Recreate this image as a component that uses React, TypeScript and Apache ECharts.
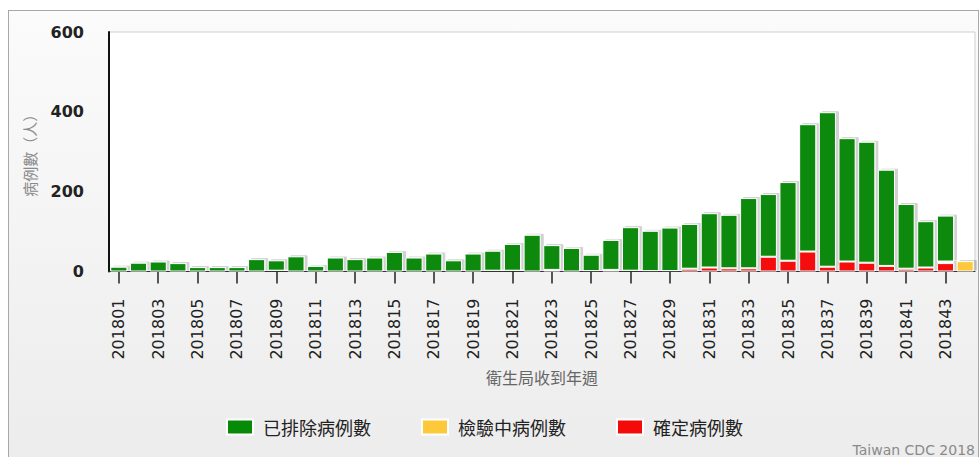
import React, { useEffect, useRef } from 'react';
import * as echarts from 'echarts';

const weeks = [
  '201801', '201802', '201803', '201804', '201805', '201806', '201807', '201808', '201809', '201810',
  '201811', '201812', '201813', '201814', '201815', '201816', '201817', '201818', '201819', '201820',
  '201821', '201822', '201823', '201824', '201825', '201826', '201827', '201828', '201829', '201830',
  '201831', '201832', '201833', '201834', '201835', '201836', '201837', '201838', '201839', '201840',
  '201841', '201842', '201843', '201844',
];

const excluded = [
  12, 22, 25, 21, 11, 11, 11, 31, 26, 38,
  14, 35, 31, 35, 49, 35, 45, 28, 45, 50,
  67, 92, 62, 59, 41, 75, 109, 101, 109, 112,
  136, 134, 176, 157, 197, 319, 387, 309, 303, 241,
  162, 116, 115, 0,
];

const pending = [
  0, 0, 0, 0, 0, 0, 0, 0, 0, 0,
  0, 0, 0, 0, 0, 0, 0, 0, 0, 0,
  0, 0, 0, 0, 0, 0, 0, 0, 0, 0,
  0, 0, 0, 0, 0, 0, 0, 0, 0, 0,
  0, 0, 4, 26,
];

const confirmed = [
  0, 0, 0, 0, 0, 0, 0, 0, 2, 0,
  0, 0, 0, 0, 0, 0, 0, 0, 0, 2,
  2, 0, 4, 0, 1, 4, 2, 1, 1, 7,
  10, 8, 8, 37, 27, 50, 12, 25, 22, 14,
  7, 10, 21, 0,
];

const yTicks = { min: 0, max: 600, interval: 200 };

const seriesNames = ['已排除病例數', '檢驗中病例數', '確定病例數'];
const seriesColors = ['#078a07', '#fdc83a', '#f50a0a'];

const nz = (arr: number[]) => arr.map((v) => (v === 0 ? null : v));

export default function App() {
  const ref = useRef<HTMLDivElement>(null);
  useEffect(() => {
    if (!ref.current) return;
    const chart = echarts.init(ref.current, undefined, { renderer: 'svg' });
    const barStyle = (color: string) => ({
      color,
      borderColor: '#ffffff',
      borderWidth: 1,
      shadowColor: 'rgba(0,0,0,0.18)',
      shadowOffsetX: 3,
      shadowOffsetY: -1,
      shadowBlur: 1,
    });
    const font = '"DejaVu Sans", Verdana, sans-serif';
    const cjk = '"Noto Sans CJK TC", "Noto Sans CJK SC", sans-serif';
    chart.setOption({
      animation: false,
      backgroundColor: 'transparent',
      grid: {
        left: 100,
        top: 21,
        width: 866,
        height: 239.5,
        show: true,
        backgroundColor: '#ffffff',
        borderColor: '#cfcfcf',
        borderWidth: 1,
      },
      legend: {
        data: seriesNames,
        left: 212,
        top: 402,
        itemWidth: 26,
        itemHeight: 15,
        itemGap: 50,
        icon: 'rect',
        textStyle: {
          fontFamily: cjk,
          fontSize: 18,
          color: '#222',
          padding: [0, 0, 0, 5],
        },
      },
      xAxis: {
        type: 'category',
        data: weeks,
        name: '衛生局收到年週',
        nameLocation: 'middle',
        nameGap: 97,
        nameTextStyle: { fontFamily: cjk, fontSize: 16, color: '#666' },
        axisLine: { show: true, lineStyle: { color: '#333', width: 1 } },
        axisTick: { show: true, interval: 1, alignWithLabel: true, length: 12, lineStyle: { color: '#222', width: 1.5 } },
        axisLabel: {
          interval: 1,
          rotate: 90,
          margin: 27,
          fontFamily: font,
          fontSize: 16,
          color: '#222',
        },
        splitLine: { show: false },
      },
      yAxis: {
        type: 'value',
        min: yTicks.min,
        max: yTicks.max,
        interval: yTicks.interval,
        name: '病例數（人）',
        nameLocation: 'middle',
        nameGap: 72,
        nameTextStyle: { fontFamily: cjk, fontSize: 15, color: '#8a8a8a' },
        axisLine: { show: true, lineStyle: { color: '#111', width: 2 } },
        axisTick: { show: false },
        axisLabel: { margin: 25, fontFamily: font, fontSize: 16, color: '#222', fontWeight: 'bold' },
        splitLine: { show: false },
      },
      series: [
        {
          name: seriesNames[2],
          type: 'bar',
          stack: 'all',
          data: nz(confirmed),
          barCategoryGap: '13%',
          itemStyle: barStyle(seriesColors[2]),
        },
        {
          name: seriesNames[1],
          type: 'bar',
          stack: 'all',
          data: nz(pending),
          itemStyle: barStyle(seriesColors[1]),
        },
        {
          name: seriesNames[0],
          type: 'bar',
          stack: 'all',
          data: nz(excluded),
          itemStyle: barStyle(seriesColors[0]),
        },
      ],
      graphic: [
        {
          type: 'text',
          x: 966,
          y: 439,
          style: {
            text: 'Taiwan CDC 2018',
            fontFamily: font,
            fontSize: 14,
            fill: '#8a8a8a',
            align: 'right',
            verticalAlign: 'middle',
          },
        },
      ],
    });
    return () => chart.dispose();
  }, []);

  return (
    <div
      style={{
        position: 'fixed',
        left: 8,
        top: 10,
        width: 969,
        height: 460,
        border: '1px solid #a8a8a8',
        background: 'linear-gradient(#fbfbfb, #ececec)',
        overflow: 'hidden',
      }}
    >
      <div ref={ref} style={{ width: 969, height: 450 }} />
    </div>
  );
}
